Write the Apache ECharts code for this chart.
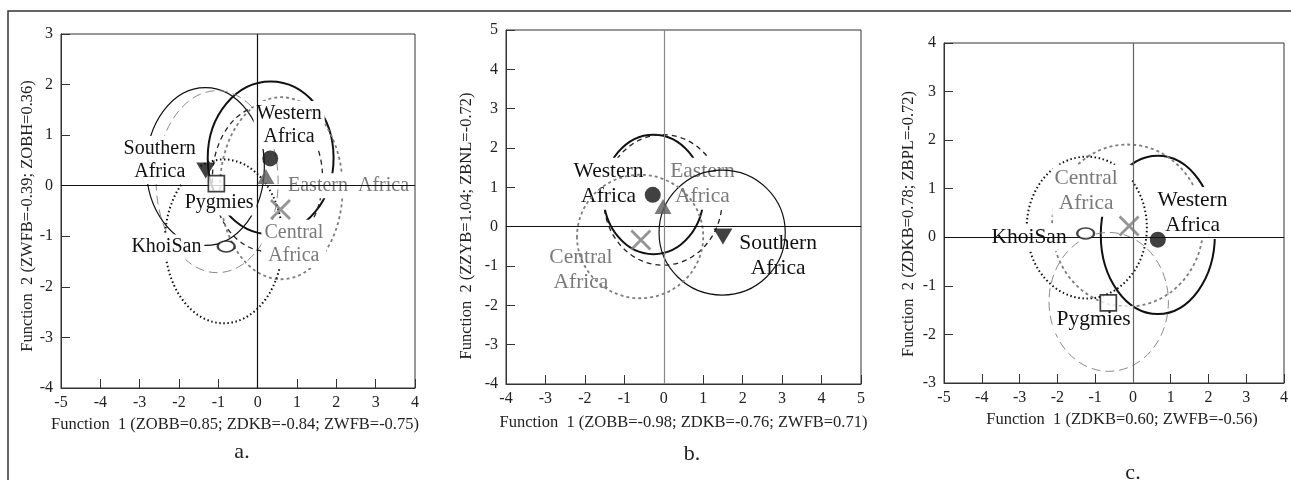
<!DOCTYPE html>
<html><head><meta charset="utf-8">
<script src="https://cdn.jsdelivr.net/npm/echarts@6/dist/echarts.min.js"></script>
<style>html,body{margin:0;padding:0;background:#fff;}#chart{width:1291px;height:480px;}</style>
</head><body><div id="chart"></div>
<script>
// ---------------- DATA ----------------
// Panel a
const aGroups = ['Southern Africa','Western Africa','Eastern Africa','Central Africa','Pygmies','KhoiSan'];
const aCentX  = [-1.32, 0.32, 0.21, 0.58, -1.05, -0.80];
const aCentY  = [ 0.30, 0.54, 0.18,-0.47,  0.04, -1.20];
const aEllCX  = [-1.33, 0.33, 0.25, 0.60, -1.03, -0.86];
const aEllCY  = [ 0.38, 0.55, 0.15,-0.05,  0.08, -1.10];
const aEllRX  = [ 1.50, 1.60, 1.40, 1.56,  1.55,  1.50];
const aEllRY  = [ 1.56, 1.51, 1.45, 1.80,  1.80,  1.62];
const aXRange = [-5, 4];
const aYRange = [-4, 3];
const aXTitle = 'Function  1 (ZOBB=0.85; ZDKB=-0.84; ZWFB=-0.75)';
const aYTitle = 'Function  2 (ZWFB=-0.39; ZOBH=0.36)';

// Panel b
const bGroups = ['Western Africa','Eastern Africa','Southern Africa','Central Africa'];
const bCentX  = [-0.28, -0.02, 1.50, -0.58];
const bCentY  = [ 0.81,  0.51,-0.25, -0.34];
const bEllCX  = [-0.26, -0.02, 1.48, -0.60];
const bEllCY  = [ 0.82,  0.68,-0.15, -0.25];
const bEllRX  = [ 1.27,  1.50, 1.60,  1.60];
const bEllRY  = [ 1.52,  1.66, 1.59,  1.57];
const bXRange = [-4, 5];
const bYRange = [-4, 5];
const bXTitle = 'Function  1 (ZOBB=-0.98; ZDKB=-0.76; ZWFB=0.71)';
const bYTitle = 'Function  2 (ZZYB=1.04; ZBNL=-0.72)';

// Panel c
const cGroups = ['Western Africa','KhoiSan','Central Africa','Pygmies'];
const cCentX  = [ 0.66, -1.25, -0.10, -0.65];
const cCentY  = [-0.05,  0.08,  0.23, -1.35];
const cEllCX  = [ 0.66, -1.22, -0.14, -0.64];
const cEllCY  = [ 0.05,  0.20,  0.24, -1.33];
const cEllRX  = [ 1.51,  1.59,  2.00,  1.58];
const cEllRY  = [ 1.63,  1.46,  1.67,  1.43];
const cXRange = [-5, 4];
const cYRange = [-3, 4];
const cXTitle = 'Function  1 (ZDKB=0.60; ZWFB=-0.56)';
const cYTitle = 'Function  2 (ZDKB=0.78; ZBPL=-0.72)';

const panelLetters = ['a.', 'b.', 'c.'];

// ---------------- LAYOUT / STYLE ----------------
const SERIF = '"Liberation Serif", "DejaVu Serif", serif';
const GRAY = '#7a7a7a';
const ellStyle = {
  'Southern Africa': {stroke:'#111', lineWidth:1.2, lineDash:null},
  'Western Africa':  {stroke:'#111', lineWidth:2.0, lineDash:null},
  'Eastern Africa':  {stroke:'#222', lineWidth:1.3, lineDash:[5,4]},
  'Central Africa':  {stroke:'#7d7d7d', lineWidth:1.8, lineDash:[3,3]},
  'Pygmies':         {stroke:'#8a8a8a', lineWidth:1.0, lineDash:[9,5]},
  'KhoiSan':         {stroke:'#111', lineWidth:2.0, lineDash:[1.5,2.6]}
};
const markStyle = {
  'Southern Africa': {symbol:'triangle', symbolSize:[19,16], symbolRotate:180, itemStyle:{color:'#111'}},
  'Western Africa':  {symbol:'circle', symbolSize:16, itemStyle:{color:'#111'}},
  'Eastern Africa':  {symbol:'triangle', symbolSize:[17,15], itemStyle:{color:'#5a5a5a'}},
  'Central Africa':  {symbol:'path://M0,0L10,10M10,0L0,10', symbolSize:19, itemStyle:{color:'none', borderColor:'#7a7a7a', borderWidth:2.8}},
  'Pygmies':         {symbol:'rect', symbolSize:16, itemStyle:{color:'#fff', borderColor:'#111', borderWidth:1.7}},
  'KhoiSan':         {symbol:'circle', symbolSize:[17,11], itemStyle:{color:'#fff', borderColor:'#111', borderWidth:1.9}}
};
// label anchors in data units (layout only)
const labelLayout = [
  { font:20, lh:23, items:[
    {g:'Western Africa', t:'Western\nAfrica', x:0.80, y:1.20, c:'#111'},
    {g:'Southern Africa', t:'Southern\nAfrica', x:-2.49, y:0.51, c:'#111'},
    {g:'Pygmies', t:'Pygmies', x:-0.98, y:-0.34, c:'#111'},
    {g:'KhoiSan', t:'KhoiSan', x:-2.32, y:-1.21, c:'#111'},
    {g:'Eastern Africa', t:'Eastern  Africa', x:2.31, y:0.0, c:GRAY},
    {g:'Central Africa', t:'Central\nAfrica', x:0.92, y:-1.15, c:GRAY}
  ]},
  { font:21.5, lh:25, items:[
    {g:'Western Africa', t:'Western\nAfrica', x:-1.40, y:1.09, c:'#111'},
    {g:'Eastern Africa', t:'Eastern\nAfrica', x:0.98, y:1.09, c:GRAY},
    {g:'Southern Africa', t:'Southern\nAfrica', x:2.90, y:-0.75, c:'#111'},
    {g:'Central Africa', t:'Central\nAfrica', x:-2.10, y:-1.10, c:GRAY}
  ]},
  { font:21.5, lh:25, items:[
    {g:'Central Africa', t:'Central\nAfrica', x:-1.08, y:0.96, c:GRAY, pad:[1,14,1,2]},
    {g:'Western Africa', t:'Western\nAfrica', x:1.58, y:0.50, c:'#111'},
    {g:'KhoiSan', t:'KhoiSan', x:-2.75, y:-0.01, c:'#111'},
    {g:'Pygmies', t:'Pygmies', x:-1.04, y:-1.70, c:'#111'}
  ]}
];
const overLabels = [[], ['Central Africa','Southern Africa'], []];
const grids = [
  {left:61, top:34, width:354, height:354},
  {left:506, top:30, width:355, height:354},
  {left:944, top:43, width:340, height:340}
];
const xNameCfg = [{gap:25, pad:[0,6,0,0]}, {gap:30, pad:[0,0,0,0]}, {gap:26, pad:[0,0,0,16]}];
const yNameCfg = [{gap:23, pad:[0,10,0,0]}, {gap:31, pad:[0,38,0,0]}, {gap:27, pad:[0,22,0,0]}];
const vZeroColor = ['#111', '#888', '#666'];

const panels = [
  {groups:aGroups, cx:aCentX, cy:aCentY, ex:aEllCX, ey:aEllCY, rx:aEllRX, ry:aEllRY, xr:aXRange, yr:aYRange, xt:aXTitle, yt:aYTitle},
  {groups:bGroups, cx:bCentX, cy:bCentY, ex:bEllCX, ey:bEllCY, rx:bEllRX, ry:bEllRY, xr:bXRange, yr:bYRange, xt:bXTitle, yt:bYTitle},
  {groups:cGroups, cx:cCentX, cy:cCentY, ex:cEllCX, ey:cEllCY, rx:cEllRX, ry:cEllRY, xr:cXRange, yr:cYRange, xt:cXTitle, yt:cYTitle}
];

// ---------------- BUILD ----------------
const option = {
  animation:false,
  backgroundColor:'#fff',
  grid:[], xAxis:[], yAxis:[], series:[],
  graphic:[
    {type:'polyline', shape:{points:[[1291,11],[8,11],[8,480]]}, style:{stroke:'#333', lineWidth:1.5, fill:null}, silent:true}
  ]
};

function ellipseRender(groupsList) {
  return function(params, api) {
    const c = api.coord([api.value(0), api.value(1)]);
    const s = api.size([api.value(2), api.value(3)]);
    const rx = s[0], ry = s[1];
    const g = groupsList[params.dataIndex];
    const st = ellStyle[g];
    const d = 'M' + (c[0]-rx) + ' ' + c[1] +
      ' A' + rx + ' ' + ry + ' 0 1 0 ' + (c[0]+rx) + ' ' + c[1] +
      ' A' + rx + ' ' + ry + ' 0 1 0 ' + (c[0]-rx) + ' ' + c[1] + ' Z';
    return {type:'path', shape:{pathData:d}, style:{fill:'none', stroke:st.stroke, lineWidth:st.lineWidth, lineDash:st.lineDash}};
  };
}

panels.forEach((p, i) => {
  option.grid.push(Object.assign({show:true, borderColor:'#333', borderWidth:1, backgroundColor:'transparent'}, grids[i]));
  const axisCommon = {
    gridIndex:i, type:'value', interval:1,
    axisLine:{show:true, onZero:false, lineStyle:{color:'#333', width:1}},
    axisTick:{show:true, inside:true, length:9, lineStyle:{color:'#333'}},
    splitLine:{show:false},
    axisLabel:{fontFamily:SERIF, fontSize:16, color:'#222', margin:7},
    nameLocation:'middle'
  };
  option.xAxis.push(Object.assign({}, axisCommon, {
    min:p.xr[0], max:p.xr[1], name:p.xt, nameGap:xNameCfg[i].gap,
    nameTextStyle:{fontFamily:SERIF, fontSize:16.5, color:'#222', padding:xNameCfg[i].pad}
  }));
  option.yAxis.push(Object.assign({}, axisCommon, {
    min:p.yr[0], max:p.yr[1], name:p.yt, nameGap:yNameCfg[i].gap, nameRotate:90,
    nameTextStyle:{fontFamily:SERIF, fontSize:16.5, color:'#222', padding:yNameCfg[i].pad},
    axisLabel:Object.assign({}, axisCommon.axisLabel, {margin:8})
  }));

  const over = overLabels[i];
  const underIdx = [], overIdx = [];
  p.groups.forEach((g, k) => (over.indexOf(g) >= 0 ? overIdx : underIdx).push(k));

  // zero lines
  option.series.push({
    type:'line', xAxisIndex:i, yAxisIndex:i, data:[], z:1, silent:true,
    markLine:{silent:true, symbol:'none', animation:false, label:{show:false},
      data:[{yAxis:0, lineStyle:{color:'#111', width:1, type:'solid'}},
            {xAxis:0, lineStyle:{color:vZeroColor[i], width:1.2, type:'solid'}}]}
  });
  const mk = (idx, z) => ({
    type:'custom', xAxisIndex:i, yAxisIndex:i, z:z, silent:true,
    renderItem: ellipseRender(idx.map(k => p.groups[k])),
    data: idx.map(k => [p.ex[k], p.ey[k], p.rx[k], p.ry[k]])
  });
  option.series.push(mk(underIdx, 2));
  const L = labelLayout[i];
  option.series.push({
    type:'custom', xAxisIndex:i, yAxisIndex:i, z:3, silent:true,
    data: L.items.map(it => [it.x, it.y]),
    renderItem:(params, api) => {
      const it = L.items[params.dataIndex];
      const c = api.coord([api.value(0), api.value(1)]);
      return {type:'text', x:c[0], y:c[1], style:{
        text:it.t, fill:it.c, font: L.font + 'px ' + SERIF, lineHeight:L.lh,
        align:'center', verticalAlign:'middle', backgroundColor:'#fff', padding: it.pad || [1,3,1,3]
      }};
    }
  });
  option.series.push(mk(overIdx, 4));
  option.series.push({
    type:'scatter', xAxisIndex:i, yAxisIndex:i, z:5, silent:true,
    data: p.groups.map((g, k) => Object.assign({name:g, value:[p.cx[k], p.cy[k]]}, markStyle[g]))
  });
});

const letterPos = [[242,452],[692,454],[1133,473]];
panelLetters.forEach((t, i) => {
  option.graphic.push({type:'text', x:letterPos[i][0], y:letterPos[i][1], silent:true,
    style:{text:t, font:'22px ' + SERIF, fill:'#222', align:'center', verticalAlign:'middle'}});
});

const chart = echarts.init(document.getElementById('chart'), null, {renderer:'canvas'});
chart.setOption(option);
</script>
</body></html>
